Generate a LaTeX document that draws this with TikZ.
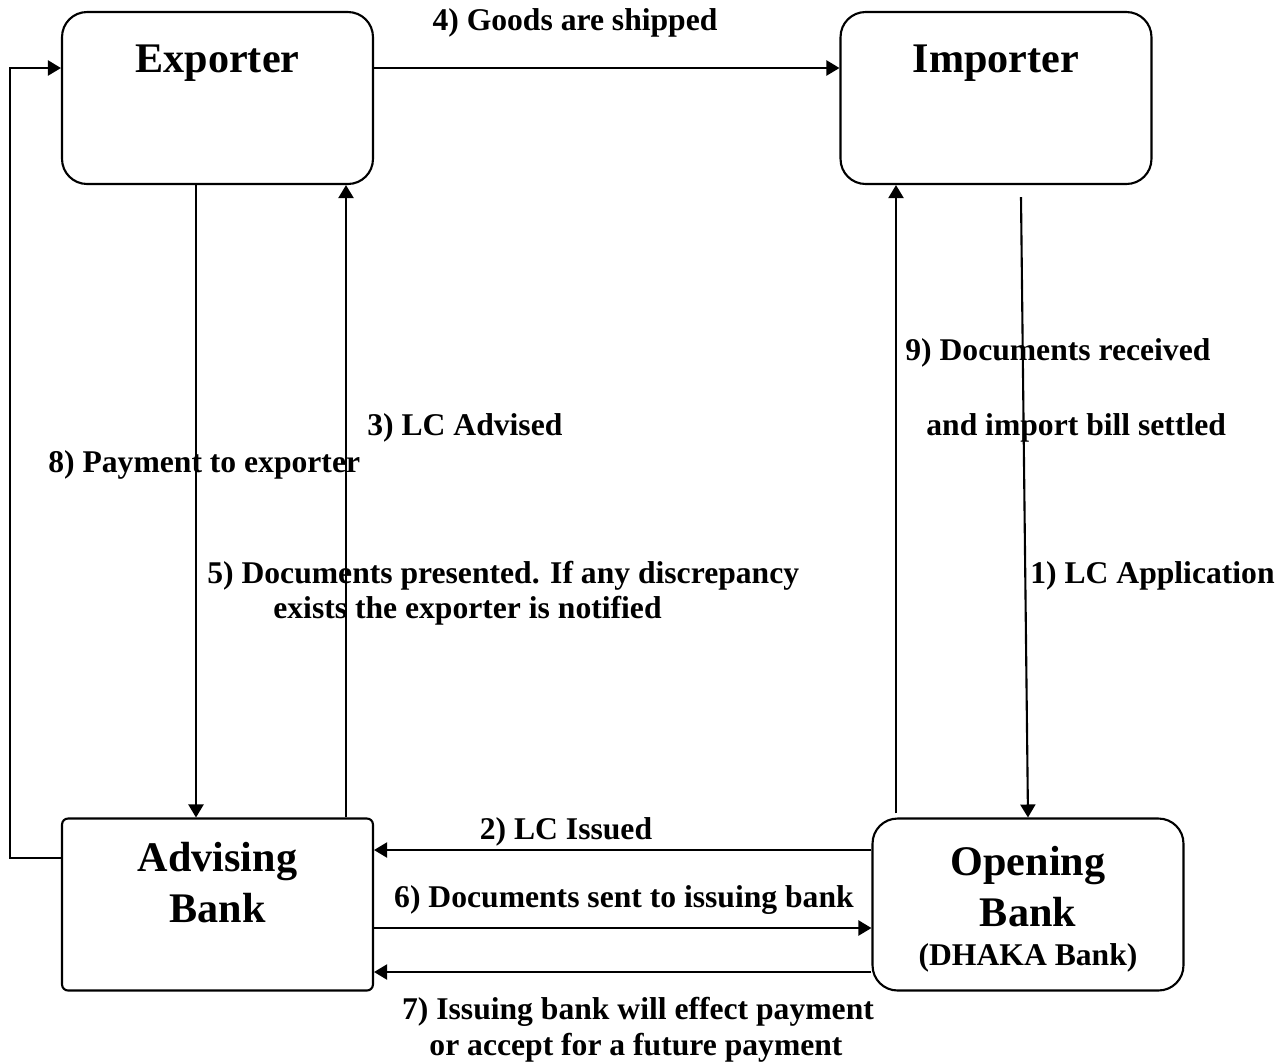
\documentclass[tikz,border=0pt]{standalone}
\usepackage{fontspec}
\setmainfont{Liberation Serif}
\usetikzlibrary{arrows.meta, calc}
\tikzset{
	partybox/.style={
			shape=rectangle,
			draw=black,
			line width=1.2pt,
			rounded corners=0.5cm,
			minimum width=6.22cm,
			minimum height=3.44cm,
			inner sep=0pt
		},
	bankbox/.style={
			partybox,
			rounded corners=0.12cm
		}
}
\tikzset{
	titletext/.style={font=\fontsize{24}{28.5}\selectfont\bfseries, align=center, inner sep=0pt},
	steptext/.style={font=\fontsize{18}{22}\selectfont\bfseries, inner sep=0pt}
}
\tikzset{
	flow/.style={-{Triangle[length=0.26cm,width=0.3cm]}, line width=1.2pt}
}

\begin{document}
\begin{tikzpicture}[x=0.02cm, y=-0.02cm]

              \useasboundingbox (0,0) rectangle (1288,1063);

              \node[partybox] (exporter) at (217.5,98) {};
              \node[partybox] (importer) at (996,98) {};
              \node[bankbox] (advising) at (217.5,904.5) {};
              \node[partybox] (opening) at (1028,904.5) {};

              \node[titletext, anchor=base] (exportertext) at (217.5,72) {Exporter};
              \node[titletext, anchor=base] (importertext) at (996,72) {Importer};
              \node[titletext, anchor=base] (advisingtext) at (217.5,922) {Advising\\Bank};
              \node[titletext, anchor=base] (openingtext) at (1028,926) {Opening\\Bank};
              \node[steptext, anchor=base] (dhaka) at (1028,965) {(DHAKA Bank)};

              % step labels
              \node[steptext, anchor=base] (l4) at (575,30) {4) Goods are shipped};
              \node[steptext, anchor=base west] (l9a) at (905,360) {9) Documents received};
              \node[steptext, anchor=base west] (l9b) at (926,435) {and import bill settled};
              \node[steptext, anchor=base west] (l3) at (367,435) {3) LC Advised};
              \node[steptext, anchor=base west] (l8) at (48,472) {8) Payment to exporter};
              \node[steptext, anchor=base west] (l5a) at (207,583) {5) Documents presented. If any discrepancy};
              \node[steptext, anchor=base west] (l5b) at (273,618) {exists the exporter is notified};
              \node[steptext, anchor=base west] (l1) at (1030,583) {1) LC Application};
              \node[steptext, anchor=base] (l2) at (566,839) {2) LC Issued};
              \node[steptext, anchor=base] (l6) at (624,907) {6) Documents sent to issuing bank};
              \node[steptext, anchor=base] (l7a) at (638,1019) {7) Issuing bank will effect payment};
              \node[steptext, anchor=base] (l7b) at (636,1055) {or accept for a future payment};

              \coordinate (loop) at (10,858);

              \draw[flow] (exporter.east |- 0,68) -- (importer.west |- 0,68);
              \draw[flow] (advising.west |- loop) -- (loop) |- (exporter.west |- 0,68);
              \draw[flow] (exporter.south -| 196,0) -- (advising.north -| 196,0);
              \draw[flow] (advising.north -| 346,0) -- (exporter.south -| 346,0);
              \draw[flow] (opening.north -| 896,0) ++(0,-4) -- (importer.south -| 896,0);
              \draw[flow] ($(importer.south -| 1021,0)+(0,12)$) -- (opening.north -| 1028,0);
              \draw[flow] (opening.west |- 0,850) -- (advising.east |- 0,850);
              \draw[flow] (advising.east |- 0,928) -- (opening.west |- 0,928);
              \draw[flow] (opening.west |- 0,972) -- (advising.east |- 0,972);

            \end{tikzpicture}
\end{document}
